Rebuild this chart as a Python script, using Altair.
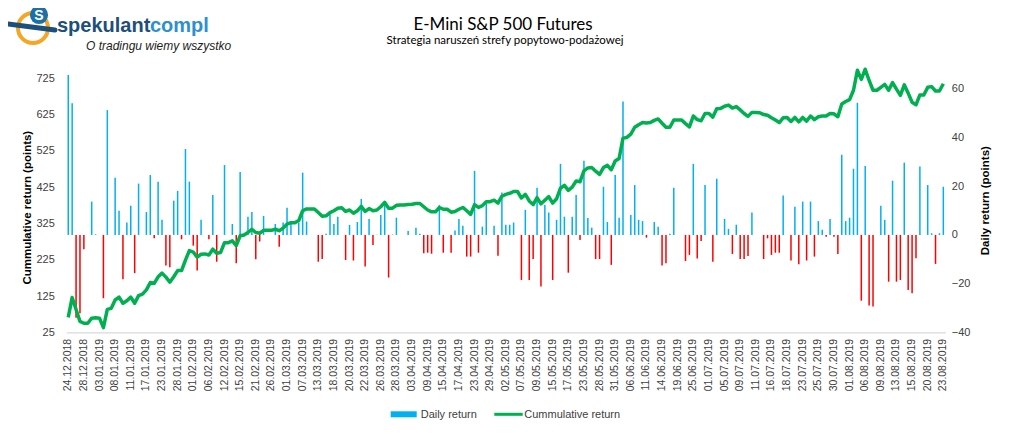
import json
import altair as alt
import pandas as pd

tick_labels = [
    "24.12.2018", "28.12.2018", "03.01.2019", "08.01.2019", "11.01.2019", "17.01.2019",
    "23.01.2019", "28.01.2019", "01.02.2019", "06.02.2019", "12.02.2019", "15.02.2019",
    "21.02.2019", "26.02.2019", "01.03.2019", "07.03.2019", "13.03.2019", "18.03.2019",
    "20.03.2019", "22.03.2019", "26.03.2019", "28.03.2019", "03.04.2019", "09.04.2019",
    "15.04.2019", "17.04.2019", "23.04.2019", "29.04.2019", "02.05.2019", "07.05.2019",
    "09.05.2019", "15.05.2019", "17.05.2019", "23.05.2019", "28.05.2019", "31.05.2019",
    "06.06.2019", "11.06.2019", "14.06.2019", "19.06.2019", "25.06.2019", "01.07.2019",
    "05.07.2019", "09.07.2019", "11.07.2019", "16.07.2019", "18.07.2019", "23.07.2019",
    "25.07.2019", "30.07.2019", "01.08.2019", "06.08.2019", "09.08.2019", "13.08.2019",
    "15.08.2019", "20.08.2019", "23.08.2019",
]

daily = [
    65.7, 54.1, -34.0, -32.2, -5.9, 0, 13.7, 0.3, 0, -26.0,
    51.3, 0, 23.5, 9.9, -18.2, 5.1, 12.0, -15.7, 21.1, 0,
    9.4, 24.6, -1.4, 21.9, 6.2, -12.6, -13.3, 14.1, 18.1, -1.8,
    35.3, 21.9, -4.4, -14.6, 6.2, 0, -1.8, 16.4, -11.0, 0,
    28.7, 0, 4.5, -11.6, 25.9, 0, 7.5, 9.4, -10.0, -2.7,
    7.8, 0, 0, 4.5, -4.8, 5.1, 11.2, 4.8, 0, 5.1,
    25.6, 5.5, 0, 0, -11.0, -9.9, 0.5, 8.5, 4.5, 7.5,
    0, -10.3, 4.1, -10.5, 5.3, 14.8, -13.0, 6.6, -4.1, 0.1,
    8.2, 12.3, -17.5, 0.2, 7.1, 0, 0, 1.6, 0, 3.0,
    0.5, -7.5, -7.3, -7.7, 0, 12.3, -7.3, 0, -7.3, 1.8,
    6.6, 3.8, -8.9, -8.9, 26.3, -7.3, 3.4, 13.0, 0, 3.8,
    -8.5, 17.4, 4.2, 4.2, 5.1, 0, -18.5, 10.3, -18.5, -9.9,
    19.4, -21.2, 12.3, 9.2, -18.5, 6.2, 29.2, 7.5, -15.5, 7.5,
    16.4, -2.1, 30.5, 7.0, 3.0, -9.9, -9.9, 19.8, 5.3, -12.3,
    24.6, 7.1, 54.8, 0, 8.2, 20.5, 6.2, 5.7, -1.1, 0,
    5.3, 3.4, -12.6, -11.6, 0.5, 19.4, 0, 0, -10.7, -8.2,
    29.2, -9.7, -2.5, 20.5, 0, -11.0, 23.1, 0, 6.6, 2.5,
    -7.8, 4.2, -9.9, -9.9, -8.6, 9.2, 0, 0, -9.9, -1.4,
    -8.2, -7.3, -7.3, 16.2, 0, -10.5, 11.6, -12.0, 13.7, -10.5,
    13.7, -8.9, 5.7, 2.1, -0.7, 6.6, -0.7, -7.8, 32.9, 5.7,
    7.1, 27.2, 54.3, -27.0, 28.3, -29.0, -29.4, 0, 12.0, 6.2,
    -19.2, 22.3, -19.2, -18.5, 29.7, -22.6, -24.0, -9.6, 28.1, 0,
    20.5, 0.7, -11.9, 0.7, 19.8,
]

cumulative = [
    66, 121, 88, 55, 50, 50, 64, 65, 64, 38,
    88, 91, 114, 122, 105, 112, 122, 105, 126, 130,
    142, 162, 160, 178, 188, 177, 163, 178, 195, 195,
    224, 250, 246, 232, 240, 241, 238, 254, 243, 245,
    272, 272, 277, 264, 291, 293, 300, 309, 300, 298,
    306, 306, 306, 309, 305, 312, 323, 327, 327, 333,
    360, 365, 365, 365, 355, 345, 346, 355, 360, 367,
    368, 358, 362, 353, 360, 372, 358, 366, 360, 362,
    371, 383, 367, 367, 375, 376, 376, 377, 378, 380,
    380, 371, 362, 357, 357, 369, 364, 364, 356, 358,
    364, 369, 360, 350, 377, 369, 374, 385, 385, 389,
    381, 400, 405, 408, 413, 413, 395, 405, 387, 377,
    396, 379, 389, 399, 381, 393, 422, 430, 416, 425,
    442, 440, 470, 478, 479, 469, 460, 479, 485, 473,
    497, 504, 560, 562, 571, 590, 597, 603, 602, 603,
    609, 613, 601, 590, 590, 610, 610, 610, 600, 591,
    621, 611, 608, 628, 628, 618, 641, 642, 648, 651,
    643, 647, 638, 628, 620, 631, 631, 630, 625, 623,
    616, 610, 603, 616, 617, 606, 617, 605, 617, 607,
    621, 611, 619, 621, 621, 628, 627, 619, 654, 661,
    666, 692, 747, 722, 750, 719, 692, 692, 700, 708,
    692, 713, 695, 678, 707, 684, 659, 652, 679, 679,
    700, 702, 690, 690, 710,
]

BLUE = "#00B0F0"
RED = "#FF0000"
GREEN = "#00B050"
LABEL = "#404040"
FONT = "Liberation Sans"

df = pd.DataFrame({"i": list(range(len(daily))), "daily": daily, "cumulative": cumulative})

label_expr = json.dumps(tick_labels) + "[round(datum.value / 4)]"

x_enc = alt.X(
    "i:O",
    scale=alt.Scale(paddingInner=0, paddingOuter=0),
    title=None,
    axis=alt.Axis(
        values=list(range(0, len(daily), 4)),
        labelExpr=label_expr,
        labelAngle=270,
        labelAlign="right",
        labelBaseline="middle",
        labelPadding=6,
        labelFont=FONT,
        labelFontSize=10.5,
        labelColor=LABEL,
        labelOverlap=False,
        labelFlush=False,
        ticks=False,
        domain=True,
        domainColor="#D9D9D9",
        domainWidth=1.2,
        grid=False,
    ),
)

bars = alt.Chart(df).mark_bar(width=1.5).encode(
    x=x_enc,
    y=alt.Y(
        "daily:Q",
        scale=alt.Scale(domain=[-40, 68.1], nice=False, zero=False),
        axis=alt.Axis(
            orient="right",
            values=[-40, -20, 0, 20, 40, 60],
            title="Daily return (points)",
            titleFont=FONT,
            titleFontSize=11.5,
            titleFontWeight="bold",
            titleColor="#000000",
            titleAngle=270,
            titleAlign="center",
            titleBaseline="middle",
            titleX=40,
            titleY=131,
            labelFont=FONT,
            labelFontSize=11,
            labelColor=LABEL,
            labelPadding=6,
            ticks=False,
            domain=False,
            grid=False,
        ),
    ),
    y2=alt.datum(0),
    color=alt.condition("datum.daily >= 0", alt.value(BLUE), alt.value(RED)),
)

line = alt.Chart(df).mark_line(color=GREEN, strokeWidth=3.5, strokeJoin="round").encode(
    x=x_enc,
    y=alt.Y(
        "cumulative:Q",
        scale=alt.Scale(domain=[25, 750], nice=False, zero=False),
        axis=alt.Axis(
            orient="left",
            values=[25, 125, 225, 325, 425, 525, 625, 725],
            title="Cummulative return (points)",
            titleFont=FONT,
            titleFontSize=11.5,
            titleFontWeight="bold",
            titleColor="#000000",
            titleAngle=270,
            titleAlign="center",
            titleBaseline="middle",
            titleX=-39,
            titleY=138,
            labelFont=FONT,
            labelFontSize=11,
            labelColor=LABEL,
            labelPadding=12,
            ticks=False,
            domain=False,
            grid=False,
        ),
    ),
)

one = pd.DataFrame({"k": [0]})


def txt(text, x, y, size, color="#000000", font=FONT, weight="normal", align="left", style="normal"):
    return alt.Chart(one).mark_text(
        text=text, font=font, fontSize=size, color=color, fontWeight=weight,
        align=align, baseline="alphabetic", fontStyle=style,
    ).encode(x=alt.value(x), y=alt.value(y))


# page coordinates -> plot coordinates (plot origin at 66.3, 69.2 on the page)
OX, OY = 66.3, 69.2

title = txt("E-Mini S&P 500 Futures", 503 - OX, 30 - OY, 17, font="Lato", align="center")
subtitle = txt("Strategia naruszeń strefy popytowo-podażowej", 505 - OX, 44.5 - OY, 11.5,
               font="Lato", align="center")

# logo
ring = alt.Chart(one).mark_point(shape="circle", size=900, filled=False, stroke="#F5A623",
                                 strokeWidth=4, opacity=1).encode(
    x=alt.value(33 - OX), y=alt.value(28 - OY))
swoosh = alt.Chart(one).mark_rule(stroke="#1D4F7C", strokeWidth=5, strokeCap="round").encode(
    x=alt.value(8 - OX), x2=alt.value(55 - OX), y=alt.value(24 - OY), y2=alt.value(30 - OY))
dot = alt.Chart(one).mark_point(shape="circle", size=330, filled=True, fill="#1D6FA8",
                                opacity=1).encode(x=alt.value(39 - OX), y=alt.value(15 - OY))
dot_s = txt("S", 39 - OX, 20 - OY, 14, color="#FFFFFF", weight="bold", align="center")
logo1 = txt("spekulant", 57 - OX, 32 - OY, 20, color="#1D4F7C", weight="bold")
logo2 = txt("compl", 150 - OX, 32 - OY, 20, color="#2E8FD1", weight="bold")
tag = txt("O tradingu wiemy wszystko", 86 - OX, 50 - OY, 12, color="#222222", style="italic")

# legend
leg_rect = alt.Chart(one).mark_rect(color=BLUE).encode(
    x=alt.value(390.7 - OX), x2=alt.value(416.7 - OX),
    y=alt.value(411.3 - OY), y2=alt.value(417.3 - OY))
leg_t1 = txt("Daily return", 420.7 - OX, 418.5 - OY, 11, color=LABEL)
leg_line = alt.Chart(one).mark_rule(stroke=GREEN, strokeWidth=3).encode(
    x=alt.value(494.3 - OX), x2=alt.value(522.7 - OX), y=alt.value(414.3 - OY))
leg_t2 = txt("Cummulative return", 524.3 - OX, 418.5 - OY, 11, color=LABEL)

chart = alt.layer(
    bars, line, title, subtitle, ring, swoosh, dot, dot_s, logo1, logo2, tag,
    leg_rect, leg_t1, leg_line, leg_t2,
).resolve_scale(y="independent").properties(
    width=879,
    height=263.1,
    autosize=alt.AutoSizeParams(type="none"),
    padding={"left": 58.3, "top": 61.2, "right": 55, "bottom": 95},
    background="white",
).configure_view(stroke=None)

chart.save("out.html", embed_options={"renderer": "svg", "actions": False})
